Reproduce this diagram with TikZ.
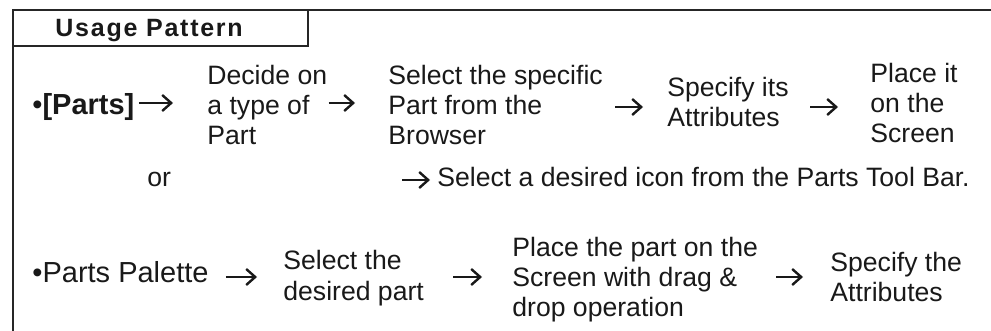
\documentclass[tikz,border=0pt]{standalone}
\usepackage{fontspec}
\setmainfont{Liberation Sans}
\usetikzlibrary{arrows.meta,positioning}

\tikzset{
  frame/.style={line width=1.3pt, black!85},
  txt/.style={anchor=base west, inner sep=0pt, align=left, text=black!90},
  lead/.style={txt, font=\fontsize{14.5}{15.5}\selectfont},
  arr/.style={-{Straight Barb[length=4.5pt,width=8pt]}, line width=1.2pt, black!90},
}

\begin{document}
\begin{tikzpicture}[x=0.5pt,y=-0.5pt,font=\fontsize{13.3}{15.2}\selectfont]
  \useasboundingbox (0,0) rectangle (991,331);
  % frame and tab
  \draw[frame] (13,331) -- (13,10) -- (991,10);
  \draw[frame] (13,46) -- (308,46) -- (308,10);
  \node[txt, font=\fontsize{12.5}{14}\selectfont\bfseries\addfontfeature{LetterSpace=7}] (usage) at (55,37) {Usage Pattern};

  % first way: parts menu (base = last line)
  \coordinate (rowa) at (0,103);
  \coordinate (rowb) at (0,107);
  \node[lead] (parts) at (32,115) {•\textbf{[Parts]}};
  \node[txt] (decide) at (207,145) {Decide on\\a type of\\Part};
  \node[txt] (select) at (388,145) {Select the specific\\Part from the\\Browser};
  \node[txt] (specify) at (667,127) {Specify its\\Attributes};
  \node[txt] (place) at (870,143) {Place it\\on the\\Screen};
  \draw[arr, shorten <=2pt, shorten >=17pt] (parts.east |- rowa) -- (decide.west |- rowa);
  \draw[arr, shorten <=0.5pt, shorten >=16.5pt] (decide.east |- rowa) -- (select.west |- rowa);
  \draw[arr, shorten <=6pt, shorten >=12pt] (select.east |- rowb) -- (specify.west |- rowb);
  \draw[arr, shorten <=10.5pt, shorten >=16pt] (specify.east |- rowb) -- (place.west |- rowb);

  % alternative
  \node[txt] (or) at (147,187) {or};
  \node[txt] (icon) at (437,187) {Select a desired icon from the Parts Tool Bar.};
  \coordinate (iconarr) at (402,180);
  \draw[arr, shorten >=3.5pt] (iconarr) -- (icon.west |- iconarr);

  % second way: palette
  \coordinate (rowc) at (0,277);
  \node[lead] (palette) at (32,283) {•Parts Palette};
  \node[txt] (seldes) at (283,300) {Select the\\desired part};
  \node[txt] (drag) at (512,317) {Place the part on the\\Screen with drag \&\\drop operation};
  \node[txt] (attr) at (830,302) {Specify the\\Attributes};
  \draw[arr, shorten <=8.5pt, shorten >=13pt] (palette.east |- rowc) -- (seldes.west |- rowc);
  \draw[arr, shorten <=14.5pt, shorten >=15pt] (seldes.east |- rowc) -- (drag.west |- rowc);
  \draw[arr, shorten <=9pt, shorten >=13.5pt] (drag.east |- rowc) -- (attr.west |- rowc);
\end{tikzpicture}
\end{document}
